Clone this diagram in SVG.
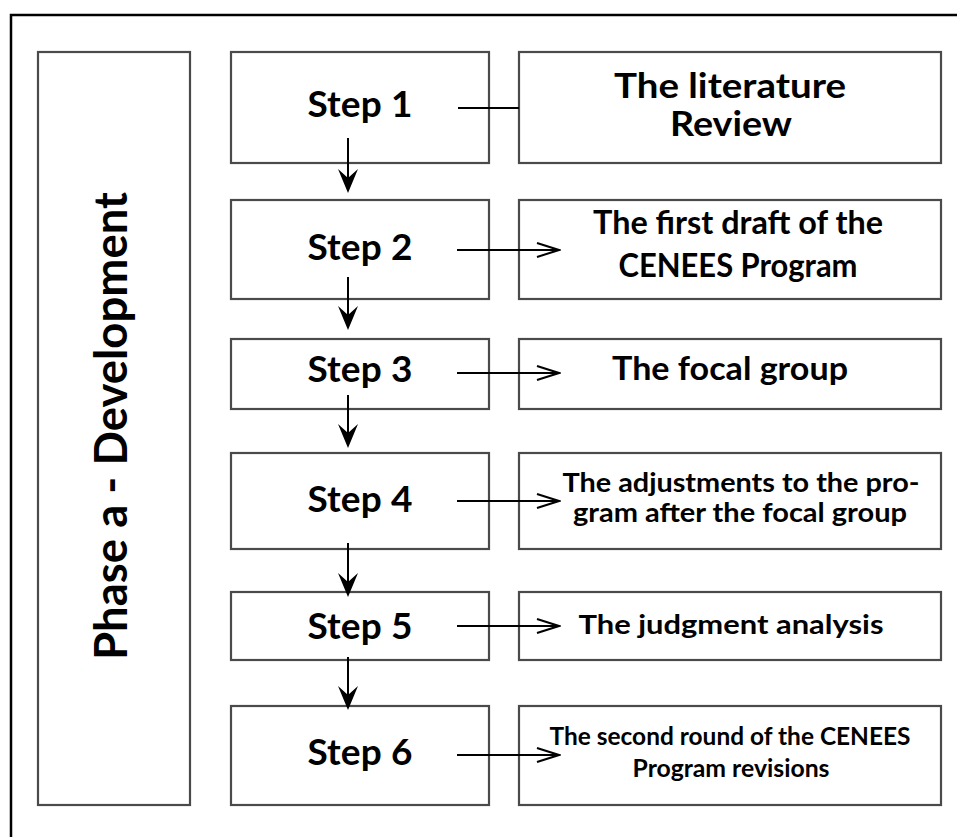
<svg xmlns="http://www.w3.org/2000/svg" width="957" height="837" viewBox="0 0 957 837">
<defs>
<style>
.box{fill:#fff;stroke:#4a4a4a;stroke-width:2.2}
.frame{fill:none;stroke:#000;stroke-width:2.5}
.con{stroke:#000;stroke-width:2;fill:none}
.step{font-family:Lato,"Liberation Sans",sans-serif;font-weight:bold;font-size:37px;fill:#000;text-anchor:middle}
.lbl{font-family:Lato,"Liberation Sans",sans-serif;font-weight:bold;fill:#000;text-anchor:middle}
.phase{font-family:Lato,"Liberation Sans",sans-serif;font-weight:bold;font-size:45px;fill:#000;text-anchor:middle}
</style>
<marker id="down" viewBox="-24 -12 34 24" markerWidth="34" markerHeight="24" refX="-8" refY="0" orient="auto" markerUnits="userSpaceOnUse">
<path d="M0,0 L-24,-10 L-15,0 L-24,10 Z" fill="#000"/>
</marker>
<marker id="open" viewBox="-24 -9 26 18" markerWidth="26" markerHeight="18" refX="0" refY="0" orient="auto" markerUnits="userSpaceOnUse">
<path d="M-22,-7 L0,0 L-22,7" fill="none" stroke="#000" stroke-width="2"/>
</marker>
</defs>
<g id="frame"><path class="frame" d="M11,837 L11,15 L957,15"/></g>
<g id="phase">
<rect class="box" x="38" y="52" width="152" height="753"/>
<text class="phase" transform="translate(127,426) rotate(-90)" textLength="468" lengthAdjust="spacingAndGlyphs">Phase a - Development</text>
</g>
<g id="step1"><rect class="box" x="231" y="52" width="258" height="111"/><text class="step" x="360" y="117" textLength="105">Step 1</text></g>
<g id="step2"><rect class="box" x="231" y="200" width="258" height="99"/><text class="step" x="360" y="260" textLength="105">Step 2</text></g>
<g id="step3"><rect class="box" x="231" y="339" width="258" height="70"/><text class="step" x="360" y="382" textLength="105">Step 3</text></g>
<g id="step4"><rect class="box" x="231" y="453" width="258" height="96"/><text class="step" x="360" y="512" textLength="105">Step 4</text></g>
<g id="step5"><rect class="box" x="231" y="592" width="258" height="68"/><text class="step" x="360" y="639" textLength="105">Step 5</text></g>
<g id="step6"><rect class="box" x="231" y="706" width="258" height="99"/><text class="step" x="360" y="765" textLength="105">Step 6</text></g>
<g id="out1"><rect class="box" x="519" y="52" width="422" height="111"/>
<text class="lbl" font-size="34" x="730" y="98" textLength="232" lengthAdjust="spacingAndGlyphs">The literature</text>
<text class="lbl" font-size="34" x="731" y="136" textLength="122" lengthAdjust="spacingAndGlyphs">Review</text></g>
<g id="out2"><rect class="box" x="519" y="200" width="422" height="99"/>
<text class="lbl" font-size="32" x="738" y="234" textLength="290" lengthAdjust="spacingAndGlyphs">The first draft of the</text>
<text class="lbl" font-size="32" x="738" y="277" textLength="239" lengthAdjust="spacingAndGlyphs">CENEES Program</text></g>
<g id="out3"><rect class="box" x="519" y="339" width="422" height="70"/>
<text class="lbl" font-size="32" x="730" y="380" textLength="236" lengthAdjust="spacingAndGlyphs">The focal group</text></g>
<g id="out4"><rect class="box" x="519" y="453" width="422" height="96"/>
<text class="lbl" font-size="27" x="741" y="492" textLength="357" lengthAdjust="spacingAndGlyphs">The adjustments to the pro-</text>
<text class="lbl" font-size="27" x="740" y="522" textLength="334" lengthAdjust="spacingAndGlyphs">gram after the focal group</text></g>
<g id="out5"><rect class="box" x="519" y="592" width="422" height="68"/>
<text class="lbl" font-size="27" x="731" y="634" textLength="305" lengthAdjust="spacingAndGlyphs">The judgment analysis</text></g>
<g id="out6"><rect class="box" x="519" y="706" width="422" height="99"/>
<text class="lbl" font-size="24" x="730" y="745" textLength="361" lengthAdjust="spacingAndGlyphs">The second round of the CENEES</text>
<text class="lbl" font-size="24" x="731" y="777" textLength="197" lengthAdjust="spacingAndGlyphs">Program revisions</text></g>
<g id="connectors">
<line class="con" x1="348" y1="138" x2="348" y2="185" marker-end="url(#down)"/>
<line class="con" x1="348" y1="277" x2="348" y2="322" marker-end="url(#down)"/>
<line class="con" x1="348" y1="395" x2="348" y2="440" marker-end="url(#down)"/>
<line class="con" x1="348" y1="543" x2="348" y2="589" marker-end="url(#down)"/>
<line class="con" x1="348" y1="657" x2="348" y2="702" marker-end="url(#down)"/>
<line class="con" x1="458" y1="108" x2="519" y2="108"/>
<line class="con" x1="457" y1="250" x2="559" y2="250" marker-end="url(#open)"/>
<line class="con" x1="457" y1="373" x2="559" y2="373" marker-end="url(#open)"/>
<line class="con" x1="457" y1="501" x2="559" y2="501" marker-end="url(#open)"/>
<line class="con" x1="457" y1="626" x2="559" y2="626" marker-end="url(#open)"/>
<line class="con" x1="457" y1="755" x2="559" y2="755" marker-end="url(#open)"/>
</g>
</svg>
